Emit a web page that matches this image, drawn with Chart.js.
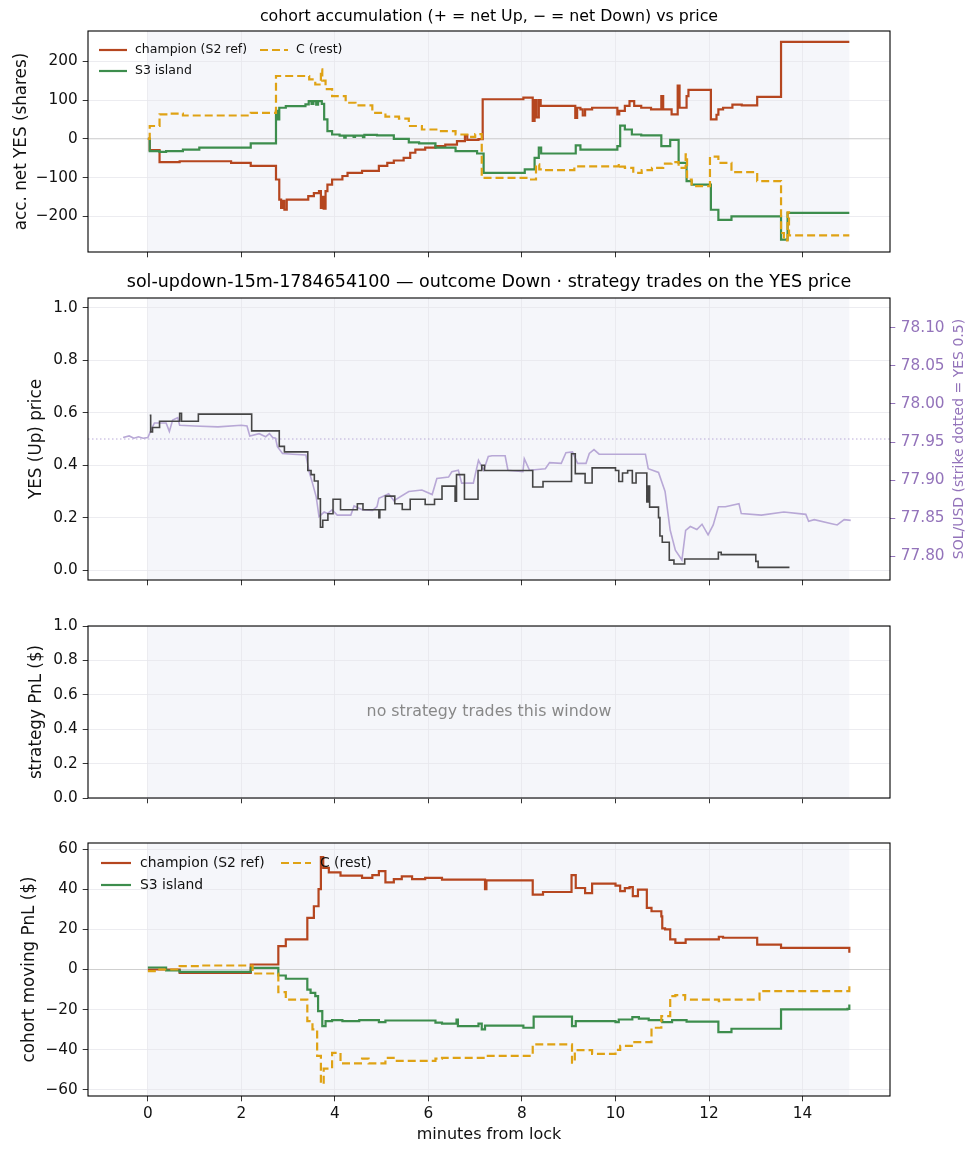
<!DOCTYPE html>
<html>
<head>
<meta charset="utf-8">
<script src="https://cdn.jsdelivr.net/npm/chart.js@4.4.1/dist/chart.umd.min.js"></script>
<style>
  html, body { margin: 0; padding: 0; background: #fff; }
  #fig { position: relative; width: 978px; height: 1156px; }
  #fig canvas { position: absolute; left: 0; }
</style>
</head>
<body>
<div id="fig">
  <canvas id="accChart" width="978" height="262" style="top:0px"></canvas>
  <canvas id="priceChart" width="978" height="328" style="top:262px"></canvas>
  <canvas id="stratChart" width="978" height="218" style="top:590px"></canvas>
  <canvas id="pnlChart" width="978" height="348" style="top:808px"></canvas>
</div>
<script>
// ---- data (minutes from lock, value) ----
const minuteTicks = [0, 2, 4, 6, 8, 10, 12, 14]
const lockWindow = [0, 15]
const cohortLabels = ['champion (S2 ref)', 'S3 island', 'C (rest)']

const accTicks = [-200, -100, 0, 100, 200]
const priceTicks = [0, 0.2, 0.4, 0.6, 0.8, 1.0]
const solTicks = [77.80, 77.85, 77.90, 77.95, 78.00, 78.05, 78.10]
const pnlTicks = [-60, -40, -20, 0, 20, 40, 60]
const strike = 77.954
const strikeYes = 0.5

const champAcc = [[0, 0], [0.04, -29], [0.25, -60], [0.68, -58], [1.78, -62], [2.2, -70], [2.74, -105], [2.81, -157],
  [2.85, -178], [2.88, -160], [2.92, -183], [2.97, -157], [3.43, -148], [3.55, -140], [3.66, -135], [3.7, -178],
  [3.73, -150], [3.76, -180], [3.8, -135], [3.84, -118], [3.94, -105], [4.16, -96], [4.27, -88], [4.58, -83],
  [4.94, -70], [5.12, -62], [5.26, -56], [5.47, -49], [5.61, -36], [5.72, -28], [5.93, -23], [6.15, -19],
  [6.36, -15], [6.61, -6], [6.78, 9], [6.83, -3], [7.07, -1], [7.16, 102], [8.03, 106], [8.23, 46], [8.27, 100],
  [8.31, 55], [8.36, 100], [8.4, 85], [9.14, 54], [9.18, 80], [9.25, 76], [9.3, 60], [9.35, 76], [9.5, 80],
  [10.04, 63], [10.08, 72], [10.2, 85], [10.3, 97], [10.4, 85], [10.55, 80], [10.76, 76], [10.98, 110],
  [11.02, 76], [11.2, 63], [11.33, 137], [11.37, 80], [11.52, 110], [11.56, 126], [12.04, 50], [12.16, 62],
  [12.2, 76], [12.3, 80], [12.5, 88], [12.7, 86], [13.03, 108], [13.54, 250], [15.0, 250]]

const s3Acc = [[0, 0], [0.04, -32], [0.25, -34], [0.39, -32], [0.75, -28], [1.1, -23], [2.2, -12], [2.74, 72],
  [2.78, 50], [2.81, 80], [2.95, 84], [3.37, 89], [3.44, 97], [3.5, 90], [3.54, 97], [3.6, 88], [3.64, 97],
  [3.72, 90], [3.77, 50], [3.84, 20], [3.94, 11], [4.1, 8], [4.2, 3], [4.23, 8], [4.4, 5], [4.43, 8], [4.6, 4],
  [4.63, 10], [4.9, 9], [5.26, 0], [5.58, -9], [5.8, -12], [6.15, -23], [6.58, -32], [7.04, -38], [7.18, -88],
  [8.06, -79], [8.27, -49], [8.36, -23], [8.41, -38], [9.15, -17], [9.25, -28], [10.04, -19], [10.1, 34],
  [10.2, 24], [10.35, 11], [10.55, 9], [10.98, -19], [11.17, -3], [11.35, -62], [11.52, -109], [11.63, -118],
  [12.04, -183], [12.2, -209], [12.48, -200], [13.54, -260], [13.68, -191], [15.0, -191]]

const restAcc = [[0, 0], [0.04, 33], [0.25, 63], [0.46, 65], [0.75, 60], [2.2, 67], [2.74, 162], [3.45, 153],
  [3.58, 140], [3.7, 179], [3.73, 150], [3.8, 128], [3.94, 110], [4.23, 93], [4.44, 86], [4.8, 67], [5.08, 57],
  [5.37, 52], [5.58, 33], [5.86, 24], [6.22, 20], [6.58, 11], [6.86, 5], [7.0, 12], [7.14, -101], [8.17, -105],
  [8.3, -66], [8.37, -79], [8.45, -81], [9.12, -71], [10.07, -64], [10.1, -72], [10.2, -75], [10.38, -88],
  [10.56, -81], [10.78, -75], [11.02, -64], [11.2, -60], [11.35, -75], [11.5, -40], [11.53, -105], [11.63, -122],
  [12.02, -46], [12.2, -62], [12.48, -86], [13.03, -109], [13.54, -243], [13.6, -262], [13.68, -190],
  [13.71, -249], [15.0, -249]]

const yesPrice = [[0.04, 0.59], [0.06, 0.527], [0.1, 0.544], [0.25, 0.568], [0.68, 0.598], [0.72, 0.568],
  [1.08, 0.595], [2.22, 0.531], [2.81, 0.472], [2.92, 0.451], [3.42, 0.38], [3.49, 0.364], [3.56, 0.34],
  [3.64, 0.272], [3.69, 0.163], [3.74, 0.19], [3.85, 0.215], [3.96, 0.27], [4.12, 0.23], [4.48, 0.253],
  [4.6, 0.23], [4.94, 0.2], [4.96, 0.23], [5.08, 0.282], [5.28, 0.253], [5.44, 0.231], [5.61, 0.27],
  [5.93, 0.25], [6.13, 0.27], [6.29, 0.32], [6.57, 0.263], [6.6, 0.364], [6.77, 0.27], [7.06, 0.38],
  [7.14, 0.4], [7.2, 0.38], [8.23, 0.317], [8.45, 0.338], [9.06, 0.444], [9.14, 0.368], [9.35, 0.332],
  [9.5, 0.39], [10.0, 0.38], [10.07, 0.338], [10.15, 0.37], [10.26, 0.38], [10.36, 0.332], [10.44, 0.37],
  [10.67, 0.26], [10.7, 0.32], [10.73, 0.24], [10.92, 0.2], [10.95, 0.13], [11.0, 0.106], [11.15, 0.038],
  [11.25, 0.023], [11.48, 0.042], [12.2, 0.068], [12.26, 0.059], [13.0, 0.033], [13.05, 0.01], [13.72, 0.01]]

const solUsd = [[-0.53, 77.956], [-0.4, 77.958], [-0.3, 77.955], [-0.2, 77.957], [-0.1, 77.955], [0, 77.956],
  [0.07, 77.966], [0.14, 77.975], [0.39, 77.975], [0.46, 77.964], [0.53, 77.979], [0.64, 77.982], [0.68, 77.972],
  [1.0, 77.971], [1.5, 77.970], [2.0, 77.972], [2.12, 77.971], [2.18, 77.958], [2.38, 77.961], [2.52, 77.957],
  [2.6, 77.961], [2.67, 77.956], [2.73, 77.955], [2.77, 77.944], [2.88, 77.935], [3.1, 77.934], [3.38, 77.933],
  [3.45, 77.911], [3.52, 77.896], [3.6, 77.878], [3.66, 77.852], [3.77, 77.858], [3.84, 77.856], [3.94, 77.861],
  [4.05, 77.854], [4.34, 77.854], [4.41, 77.866], [4.58, 77.861], [4.8, 77.860], [4.9, 77.865], [4.94, 77.876],
  [5.15, 77.882], [5.26, 77.873], [5.58, 77.885], [5.86, 77.887], [6.08, 77.881], [6.18, 77.902], [6.43, 77.904],
  [6.5, 77.911], [6.64, 77.913], [6.71, 77.896], [6.96, 77.896], [7.07, 77.926], [7.18, 77.913], [7.28, 77.931],
  [7.36, 77.932], [7.64, 77.932], [7.7, 77.913], [8.02, 77.911], [8.05, 77.928], [8.16, 77.913], [8.5, 77.915],
  [8.59, 77.923], [8.84, 77.922], [8.94, 77.936], [9.08, 77.937], [9.19, 77.922], [9.37, 77.922], [9.44, 77.935],
  [9.54, 77.940], [9.65, 77.934], [9.93, 77.934], [10.3, 77.934], [10.64, 77.934], [10.7, 77.915], [10.92, 77.910],
  [11.06, 77.885], [11.17, 77.834], [11.28, 77.808], [11.42, 77.795], [11.5, 77.834], [11.6, 77.839],
  [11.74, 77.835], [11.85, 77.842], [11.98, 77.828], [12.09, 77.841], [12.2, 77.865], [12.35, 77.865],
  [12.64, 77.869], [12.69, 77.856], [13.12, 77.854], [13.6, 77.858], [14.07, 77.855], [14.13, 77.846],
  [14.25, 77.848], [14.6, 77.843], [14.74, 77.841], [14.89, 77.848], [15.03, 77.847]]

const champPnl = [[0, 0], [0.68, -1.7], [2.2, 2.5], [2.79, 11.6], [2.95, 15], [3.41, 25.7], [3.55, 31.5],
  [3.65, 40], [3.7, 56], [3.75, 50.6], [3.87, 48.4], [4.12, 46.8], [4.58, 45.6], [4.8, 47], [4.94, 49],
  [5.08, 43.4], [5.26, 45], [5.43, 46.4], [5.65, 45], [5.93, 45.6], [6.29, 44.8], [7.21, 40], [7.24, 44.4],
  [8.23, 37.3], [8.45, 38.6], [9.06, 47], [9.15, 40.6], [9.35, 38], [9.5, 42.8], [10.0, 41.8], [10.1, 39],
  [10.2, 40.5], [10.3, 41], [10.37, 36.5], [10.48, 39.8], [10.67, 30.7], [10.77, 29], [10.98, 26.5],
  [11.0, 20.5], [11.06, 20], [11.17, 15], [11.28, 13.3], [11.5, 15], [12.21, 16.3], [12.3, 15.8],
  [13.03, 12.4], [13.54, 10.8], [14.96, 10.8], [15.0, 8.3]]

const s3Pnl = [[0, 1], [0.39, -0.5], [0.68, -1.2], [2.2, 0.8], [2.79, -3], [2.95, -4.6], [3.41, -10],
  [3.48, -11.6], [3.58, -13.3], [3.64, -20.7], [3.73, -28.2], [3.8, -25.7], [3.94, -25.2], [4.16, -25.7],
  [4.52, -25.2], [4.94, -26.2], [5.08, -25.4], [6.15, -26.5], [6.29, -27], [6.6, -25], [6.63, -28.2],
  [7.07, -27], [7.14, -29.8], [7.21, -28], [8.03, -29], [8.25, -23.5], [9.07, -28.2], [9.15, -25.7],
  [10.0, -26.2], [10.07, -24.9], [10.36, -23.7], [10.5, -24.5], [10.71, -25.2], [11.0, -26.2], [11.21, -25.2],
  [11.52, -26], [12.2, -31.2], [12.48, -29.5], [13.54, -19.9], [14.96, -19.6], [15.0, -17.4]]

const restPnl = [[0, -0.8], [0.18, 0], [0.68, 1.7], [1.1, 2], [2.24, -2], [2.79, -11.3], [2.95, -15],
  [3.41, -25.7], [3.52, -29.8], [3.62, -43], [3.7, -57], [3.76, -49.4], [3.94, -41.5], [4.12, -46.8],
  [4.58, -44.4], [4.72, -46.8], [5.08, -44], [5.29, -45.5], [6.15, -44.4], [6.29, -44], [7.21, -43],
  [8.23, -37.3], [9.07, -46.4], [9.13, -40.2], [9.5, -42], [10.0, -40], [10.1, -38], [10.38, -36.2],
  [10.77, -29], [10.98, -23.2], [11.17, -13.3], [11.28, -12.8], [11.49, -15], [12.21, -15.8], [12.26, -15],
  [13.08, -10.8], [14.96, -10.8], [15.0, -8.3]]

// ---- styling ----
const COHORT_COLORS = ['#b5461f', '#3d8d4d', '#dfa214']
const PRICE_COLOR = '#454545'
const SOL_COLOR = '#b8a8d6'
const PURPLE = '#9373ba'
const GRID = '#e7e7ec'
const SHADE = '#f5f6fa'
const FONT = '"DejaVu Sans", sans-serif'
const X_MIN = -1.28, X_MAX = 15.87
const GUTTER = 88
const TICK_LEN = 5.3
const LABEL_SIZE = 16.8

Chart.defaults.font.family = FONT
Chart.defaults.font.size = 15.3
Chart.defaults.color = '#111'

const pts = arr => arr.map(([x, y]) => ({ x, y }))
const minus = v => String(v).replace('-', '\u2212')

// shading, reference line, frame, titles, legend, note
const makeDecor = cfg => ({
  id: 'panelDecor',
  beforeDraw(chart) {
    const { ctx, chartArea: a, scales: { x } } = chart
    const x0 = x.getPixelForValue(lockWindow[0])
    const x1 = x.getPixelForValue(lockWindow[1])
    ctx.save()
    ctx.fillStyle = SHADE
    ctx.fillRect(x0, a.top, x1 - x0, a.bottom - a.top)
    ctx.restore()
  },
  beforeDatasetsDraw(chart) {
    if (cfg.refY === undefined) return
    const { ctx, chartArea: a, scales: { y } } = chart
    const py = y.getPixelForValue(cfg.refY)
    ctx.save()
    ctx.strokeStyle = cfg.refColor
    ctx.lineWidth = cfg.refWidth
    ctx.setLineDash(cfg.refDash || [])
    ctx.beginPath()
    ctx.moveTo(a.left, py)
    ctx.lineTo(a.right, py)
    ctx.stroke()
    ctx.restore()
  },
  afterDraw(chart) {
    const { ctx, chartArea: a } = chart
    ctx.save()
    ctx.strokeStyle = '#000'
    ctx.lineWidth = 1.1
    ctx.strokeRect(a.left, a.top, a.right - a.left, a.bottom - a.top)

    if (cfg.title) {
      ctx.fillStyle = '#000'
      ctx.font = `${cfg.titleSize}px ${FONT}`
      ctx.textAlign = 'center'
      ctx.textBaseline = 'middle'
      ctx.fillText(cfg.title, (a.left + a.right) / 2, a.top - cfg.titleGap)
    }
    if (cfg.note) {
      ctx.fillStyle = '#888'
      ctx.font = `${cfg.noteSize}px ${FONT}`
      ctx.textAlign = 'center'
      ctx.textBaseline = 'middle'
      ctx.fillText(cfg.note, (a.left + a.right) / 2, (a.top + a.bottom) / 2)
    }
    if (cfg.rightTitle) {
      ctx.fillStyle = PURPLE
      ctx.font = `${cfg.rightTitleSize}px ${FONT}`
      ctx.textAlign = 'center'
      ctx.textBaseline = 'middle'
      ctx.translate(cfg.rightTitleX, (a.top + a.bottom) / 2)
      ctx.rotate(-Math.PI / 2)
      ctx.fillText(cfg.rightTitle, 0, 0)
      ctx.setTransform(1, 0, 0, 1, 0, 0)
    }
    if (cfg.legend) {
      const L = cfg.legend
      ctx.font = `${L.size}px ${FONT}`
      ctx.textAlign = 'left'
      ctx.textBaseline = 'middle'
      chart.data.datasets.forEach((ds, i) => {
        const [col, row] = L.slots[i]
        const hx = a.left + L.cols[col], hy = a.top + L.rows[row]
        ctx.strokeStyle = ds.borderColor
        ctx.lineWidth = ds.borderWidth
        ctx.setLineDash(ds.borderDash || [])
        ctx.beginPath()
        ctx.moveTo(hx, hy)
        ctx.lineTo(hx + L.handle, hy)
        ctx.stroke()
        ctx.setLineDash([])
        ctx.fillStyle = '#111'
        ctx.fillText(ds.label, hx + L.handle + L.gap, hy)
      })
    }
    ctx.restore()
  }
})

const xScale = showLabels => ({
  type: 'linear', min: X_MIN, max: X_MAX,
  afterBuildTicks: s => { s.ticks = minuteTicks.map(v => ({ value: v })) },
  afterFit: s => { s.height = showLabels ? 60 : 10; s.paddingLeft = 0; s.paddingRight = 0 },
  grid: { color: GRID, lineWidth: 0.8, tickColor: '#000', tickLength: TICK_LEN },
  border: { display: false },
  ticks: { display: showLabels, padding: 3.5, autoSkip: false, maxRotation: 0 },
  title: { display: showLabels, text: 'minutes from lock', font: { size: 16 }, padding: { top: 0, bottom: 11.4 } }
})

const yScale = (min, max, ticks, fmt, title, titlePad) => ({
  type: 'linear', min, max,
  afterBuildTicks: s => { s.ticks = ticks.map(v => ({ value: v })) },
  afterFit: s => { s.width = GUTTER; s.paddingTop = 0; s.paddingBottom = 0 },
  grid: { color: GRID, lineWidth: 0.8, tickColor: '#000', tickLength: TICK_LEN },
  border: { display: false },
  ticks: { padding: 5, autoSkip: false, callback: fmt },
  title: { display: true, text: title, font: { size: LABEL_SIZE }, padding: { top: titlePad, bottom: 0 } }
})

const baseOptions = (top, right) => ({
  responsive: false,
  animation: false,
  events: [],
  layout: { padding: { top, right, bottom: 0, left: 0 } },
  plugins: { legend: { display: false }, tooltip: { enabled: false } }
})

const cohortSets = series => series.map((s, i) => ({
  label: cohortLabels[i],
  data: pts(s),
  borderColor: COHORT_COLORS[i],
  borderWidth: 2.2,
  borderDash: i === 2 ? [8, 4] : [],
  stepped: true,
  pointRadius: 0,
  fill: false,
  order: 2 - i
}))

// panel 1: cohort accumulation
new Chart(document.getElementById('accChart'), {
  type: 'line',
  data: { datasets: cohortSets([champAcc, s3Acc, restAcc]) },
  options: {
    ...baseOptions(31, GUTTER),
    scales: { x: xScale(false), y: yScale(-292, 278, accTicks, minus, 'acc. net YES (shares)', 11.4) }
  },
  plugins: [makeDecor({
    title: 'cohort accumulation (+ = net Up, \u2212 = net Down) vs price', titleSize: 15.8, titleGap: 14,
    refY: 0, refColor: '#cfcfcf', refWidth: 1,
    legend: { size: 12.5, handle: 28, gap: 8, cols: [11, 172], rows: [19, 40], slots: [[0, 0], [0, 1], [1, 0]] }
  })]
})

// panel 2: YES price and SOL/USD
new Chart(document.getElementById('priceChart'), {
  type: 'line',
  data: {
    datasets: [
      { label: 'YES price', data: pts(yesPrice), yAxisID: 'y', borderColor: PRICE_COLOR, borderWidth: 1.6,
        stepped: true, pointRadius: 0, fill: false },
      { label: 'SOL/USD', data: pts(solUsd), yAxisID: 'y2', borderColor: SOL_COLOR, borderWidth: 1.6,
        pointRadius: 0, fill: false, tension: 0 }
    ]
  },
  options: {
    ...baseOptions(36, 0),
    scales: {
      x: xScale(false),
      y: yScale(-0.038, 1.038, priceTicks, v => v.toFixed(1), 'YES (Up) price', 26.2),
      y2: {
        type: 'linear', position: 'right', min: strike - 0.1853, max: strike + 0.1853,
        afterBuildTicks: s => { s.ticks = solTicks.map(v => ({ value: v })) },
        afterFit: s => { s.width = GUTTER; s.paddingTop = 0; s.paddingBottom = 0 },
        grid: { drawOnChartArea: false, tickColor: PURPLE, tickLength: TICK_LEN },
        border: { display: false },
        ticks: { color: PURPLE, padding: 5.5, autoSkip: false, callback: v => v.toFixed(2) }
      }
    }
  },
  plugins: [makeDecor({
    title: 'sol-updown-15m-1784654100 \u2014 outcome Down \u00b7 strategy trades on the YES price',
    titleSize: 17.5, titleGap: 16,
    refY: strikeYes, refColor: '#b9aad8', refWidth: 1, refDash: [1.5, 2.5],
    rightTitle: 'SOL/USD (strike dotted = YES 0.5)', rightTitleSize: 14, rightTitleX: 959
  })]
})

// panel 3: strategy PnL (empty)
new Chart(document.getElementById('stratChart'), {
  type: 'line',
  data: { datasets: [] },
  options: {
    ...baseOptions(36, GUTTER),
    scales: { x: xScale(false), y: yScale(0, 1, priceTicks, v => v.toFixed(1), 'strategy PnL ($)', 26.2) }
  },
  plugins: [makeDecor({ note: 'no strategy trades this window', noteSize: 15.8 })]
})

// panel 4: cohort moving PnL
new Chart(document.getElementById('pnlChart'), {
  type: 'line',
  data: { datasets: cohortSets([champPnl, s3Pnl, restPnl]) },
  options: {
    ...baseOptions(35, GUTTER),
    scales: { x: xScale(true), y: yScale(-63, 63, pnlTicks, minus, 'cohort moving PnL ($)', 20) }
  },
  plugins: [makeDecor({
    refY: 0, refColor: '#cfcfcf', refWidth: 1,
    legend: { size: 13.9, handle: 30, gap: 9, cols: [13, 193], rows: [20, 42], slots: [[0, 0], [0, 1], [1, 0]] }
  })]
})
</script>
</body>
</html>
